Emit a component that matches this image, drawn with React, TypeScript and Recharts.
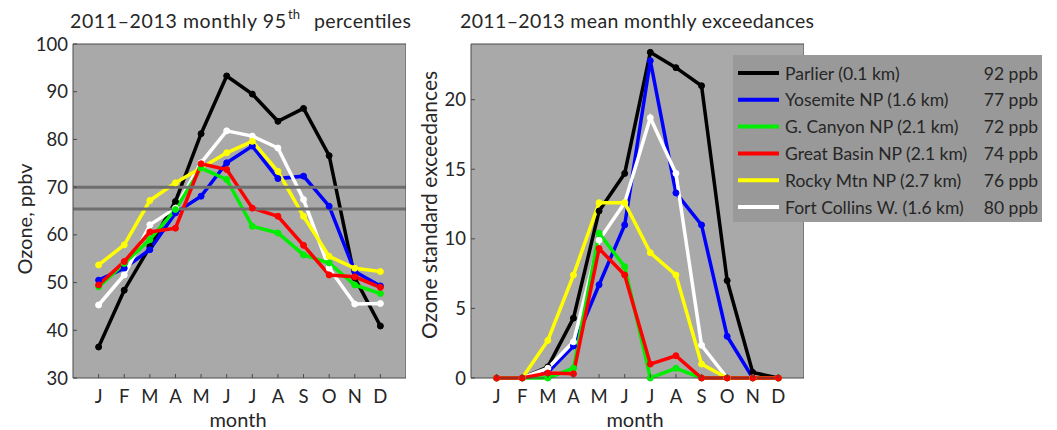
import React from "react"
import { LineChart, Line, XAxis, YAxis, CartesianGrid, ReferenceLine } from "recharts"

const months = ["J", "F", "M", "A", "M", "J", "J", "A", "S", "O", "N", "D"]
const monthNums = [1, 2, 3, 4, 5, 6, 7, 8, 9, 10, 11, 12]

const sites = [
  "Parlier (0.1 km)",
  "Yosemite NP (1.6 km)",
  "G. Canyon NP (2.1 km)",
  "Great Basin NP (2.1 km)",
  "Rocky Mtn NP (2.7 km)",
  "Fort Collins W. (1.6 km)",
]
const sitePpb = ["92 ppb", "77 ppb", "72 ppb", "74 ppb", "76 ppb", "80 ppb"]
const siteColors = ["#000000", "#0000ff", "#00ee00", "#ff0000", "#ffff00", "#ffffff"]

// monthly 95th percentiles, ppbv
const p95Parlier = [36.5, 48.4, 57.5, 67.0, 81.2, 93.3, 89.5, 83.8, 86.5, 76.6, 51.0, 40.9]
const p95Yosemite = [50.5, 53.0, 56.9, 64.6, 68.1, 75.1, 78.6, 71.8, 72.3, 66.0, 52.3, 49.3]
const p95Canyon = [49.1, 54.0, 59.0, 65.3, 74.0, 71.6, 61.8, 60.4, 55.8, 54.1, 49.5, 47.7]
const p95Basin = [49.5, 54.4, 60.6, 61.4, 74.9, 73.7, 65.6, 63.9, 57.8, 51.6, 51.2, 49.0]
const p95Rocky = [53.7, 57.9, 67.2, 70.9, 74.0, 77.2, 79.6, 73.3, 63.9, 55.5, 53.0, 52.3]
const p95Collins = [45.3, 51.6, 62.1, 65.6, 75.1, 81.8, 80.7, 78.2, 67.4, 53.0, 45.5, 45.6]

// mean monthly exceedances
const exParlier = [0, 0, 0.8, 4.3, 12.0, 14.7, 23.4, 22.3, 21.0, 7.0, 0.4, 0]
const exYosemite = [0, 0, 0.4, 2.3, 6.7, 11.0, 22.8, 13.3, 11.0, 3.0, 0, 0]
const exCanyon = [0, 0, 0, 0.7, 10.4, 8.0, 0, 0.7, 0, 0, 0, 0]
const exBasin = [0, 0, 0.36, 0.3, 9.3, 7.4, 1.0, 1.6, 0, 0, 0, 0]
const exRocky = [0, 0, 2.7, 7.4, 12.6, 12.6, 9.0, 7.4, 1.0, 0, 0, 0]
const exCollins = [0, 0, 0.7, 2.6, 9.9, 12.6, 18.7, 14.7, 2.35, 0, 0, 0]

const standards = [70, 65.4]
const p95Ticks = [30, 40, 50, 60, 70, 80, 90, 100]
const exTicks = [0, 5, 10, 15, 20]

// black, blue, white, yellow, green, red on top
const drawOrder = [0, 1, 5, 4, 2, 3]

const FONT = "Lato, 'DejaVu Sans', sans-serif"
const INK = "#262626"
const TICK = "#4a4a4a"
const PLOT_BG = "#a9a9a9"

function toRows(series: number[][]) {
  return monthNums.map((m, i) => {
    const r: Record<string, number> = { m }
    series.forEach((s, k) => (r["s" + k] = s[i]))
    return r
  })
}

const p95Rows = toRows([p95Parlier, p95Yosemite, p95Canyon, p95Basin, p95Rocky, p95Collins])
const exRows = toRows([exParlier, exYosemite, exCanyon, exBasin, exRocky, exCollins])

// tickSize 0, tickMargin 8 -> plot bottom is y - 8
function MonthTick({ x, y, payload }: any) {
  const base = y - 8
  return (
    <g>
      <line x1={x} x2={x} y1={base} y2={base - 4} stroke={TICK} />
      <text x={x} y={base + 25} textAnchor="middle" fontSize={18.5} fontFamily={FONT} fill={INK}>
        {months[payload.value - 1]}
      </text>
    </g>
  )
}

// tickSize 0, tickMargin 5 -> plot left is x + 5
function ValueTick({ x, y, payload }: any) {
  const edge = x + 5
  return (
    <g>
      <line x1={edge} x2={edge + 4} y1={y} y2={y} stroke={TICK} />
      <text x={x} y={y + 6.5} textAnchor="end" fontSize={18.5} fontFamily={FONT} fill={INK}>
        {payload.value}
      </text>
    </g>
  )
}

function Panel({ rows, domain, ticks, yWidth, right, refs }: any) {
  return (
    <LineChart width={right} height={430} data={rows} margin={{ top: 44, right: 0, bottom: 0, left: 0 }}>
      <CartesianGrid fill={PLOT_BG} fillOpacity={1} horizontal={false} vertical={false} stroke="none" />
      <XAxis
        dataKey="m"
        type="number"
        domain={[0, 13]}
        ticks={monthNums}
        height={52}
        tickSize={0}
        tickMargin={8}
        tick={<MonthTick />}
        axisLine={{ stroke: TICK }}
      />
      <XAxis
        xAxisId="top"
        dataKey="m"
        type="number"
        orientation="top"
        mirror
        domain={[0, 13]}
        ticks={monthNums}
        height={1}
        tickSize={4}
        tick={false}
        tickLine={{ stroke: TICK }}
        axisLine={{ stroke: TICK }}
      />
      <YAxis
        type="number"
        domain={domain}
        ticks={ticks}
        width={yWidth}
        tickSize={0}
        tickMargin={5}
        tick={<ValueTick />}
        axisLine={{ stroke: TICK }}
      />
      <YAxis
        yAxisId="right"
        type="number"
        orientation="right"
        mirror
        domain={domain}
        ticks={ticks}
        width={1}
        tickSize={4}
        tick={false}
        tickLine={{ stroke: TICK }}
        axisLine={{ stroke: TICK }}
      />
      {drawOrder.map((k) => (
        <Line
          key={k}
          dataKey={"s" + k}
          stroke={siteColors[k]}
          strokeWidth={3.5}
          dot={{ r: 3, fill: siteColors[k], stroke: siteColors[k], strokeWidth: 1 }}
          activeDot={false}
          isAnimationActive={false}
        />
      ))}
      {(refs || []).map((v: number) => (
        <ReferenceLine key={v} y={v} stroke="#6e6e6e" strokeWidth={3} />
      ))}
    </LineChart>
  )
}

export default function App() {
  const rowY = (k: number) => 73 + k * 26.8
  return (
    <div style={{ position: "absolute", left: 0, top: 0, width: 1057, height: 430, background: "#fff" }}>
      <div style={{ position: "absolute", left: 0, top: 0 }}>
        <Panel rows={p95Rows} domain={[30, 100]} ticks={p95Ticks} yWidth={73} right={406} refs={standards} />
      </div>
      <div style={{ position: "absolute", left: 420, top: 0 }}>
        <Panel rows={exRows} domain={[0, 24]} ticks={exTicks} yWidth={51} right={384} />
      </div>
      <svg
        width={1057}
        height={430}
        style={{ position: "absolute", left: 0, top: 0, pointerEvents: "none" }}
        fontFamily={FONT}
        fill={INK}
      >
        <text x={70} y={28} fontSize={19.5} textLength={216} lengthAdjust="spacing">
          2011–2013 monthly 95
        </text>
        <text x={288} y={19} fontSize={13}>th</text>
        <text x={314} y={28} fontSize={19.5} textLength={97} lengthAdjust="spacing">
          percentiles
        </text>
        <text x={460} y={28} fontSize={19.5} textLength={354} lengthAdjust="spacing">
          2011–2013 mean monthly exceedances
        </text>
        <text transform="translate(32,219) rotate(-90)" textAnchor="middle" fontSize={20}>
          Ozone, ppbv
        </text>
        <text transform="translate(437,205) rotate(-90)" textAnchor="middle" fontSize={21}>
          Ozone standard exceedances
        </text>
        <text x={238} y={427} textAnchor="middle" fontSize={20}>month</text>
        <text x={635} y={427} textAnchor="middle" fontSize={20}>month</text>

        <rect x={733} y={55} width={309} height={167} fill="#999999" />
        {sites.map((s, k) => (
          <g key={s}>
            <line x1={738} x2={779} y1={rowY(k)} y2={rowY(k)} stroke={siteColors[k]} strokeWidth={4} />
            <text x={785} y={rowY(k) + 6.5} fontSize={17.5}>{s}</text>
            <text x={1038} y={rowY(k) + 6.5} fontSize={17.5} textAnchor="end">{sitePpb[k]}</text>
          </g>
        ))}
      </svg>
    </div>
  )
}
